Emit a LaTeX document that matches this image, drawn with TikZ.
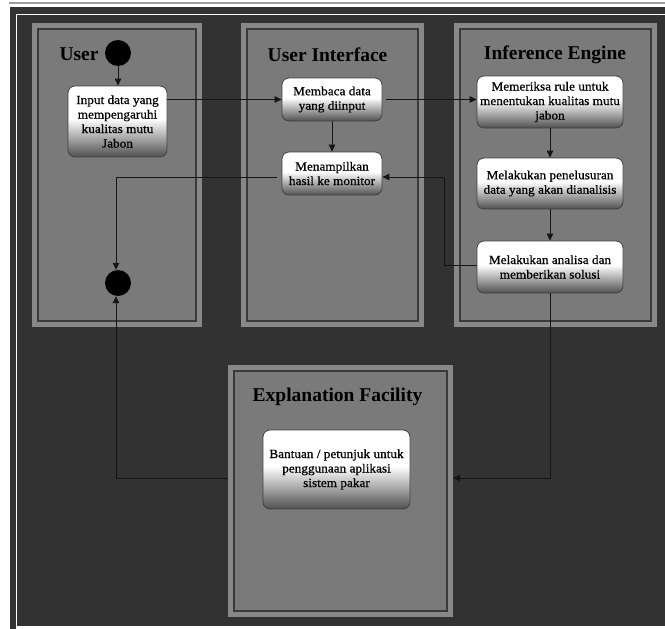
\documentclass[tikz,border=0pt]{standalone}
\usepackage{fontspec}
\setmainfont{Liberation Serif}
\newfontfamily\boxfont[FakeStretch=1.06,FakeBold=0.7]{Liberation Serif}
\usetikzlibrary{shadows,arrows.meta}

\definecolor{bg}{HTML}{323232}
\definecolor{laneband}{HTML}{888888}
\definecolor{lanefill}{HTML}{7A7A7A}
\definecolor{laneline}{HTML}{3A3A3A}
\definecolor{boxlow}{HTML}{505050}
\definecolor{wire}{HTML}{151515}

% white upper half fading to grey at the bottom of each activity box
\pgfdeclareverticalshading{boxfade}{100bp}{color(0bp)=(boxlow); color(25bp)=(boxlow); color(52bp)=(white); color(100bp)=(white)}

\begin{document}
\begin{tikzpicture}[x=1pt, y=-1pt,
  lane/.style={fill=laneband, inner sep=0pt, outer sep=0pt,
    path picture={\draw[laneline, line width=2pt, fill=lanefill]
      ([shift={(6pt,-6pt)}]path picture bounding box.north west) rectangle
      ([shift={(-6pt,6pt)}]path picture bounding box.south east);}},
  title/.style={font=\fontsize{19.5}{22}\selectfont\bfseries, inner sep=0pt},
  act/.style={rounded corners=7pt, draw=black!75, line width=0.8pt,
    shade, shading=boxfade,
    drop shadow={shadow xshift=1.2pt, shadow yshift=-1.5pt, opacity=.55},
    align=center, inner sep=1pt,
    font=\boxfont\fontsize{12.5}{14.5}\selectfont},
  dot/.style={circle, fill=black, minimum size=26pt, inner sep=0pt},
  arr/.style={draw=wire, line width=1pt, -{Triangle[length=7pt,width=6.5pt]}}
]
\useasboundingbox (0,0) rectangle (665,629);

% outer window frame
\fill[white] (0,0) rectangle (665,629);
\draw[gray!75, line width=1.5pt] (9,3) -- (665,3);
\fill[bg] (10,7) rectangle (665,629);
\draw[white, line width=1pt] (665,14.5) -- (16.5,14.5) -- (16.5,626.5) -- (665,626.5);
\fill[white] (16,627) rectangle (665,629);

% swimlanes
\node[lane, minimum width=170pt, minimum height=304pt] (laneU) at (117,175) {};
\node[lane, minimum width=183pt, minimum height=304pt] (laneI) at (332.5,175) {};
\node[lane, minimum width=203pt, minimum height=304pt] (laneE) at (555.5,175) {};
\node[lane, minimum width=225pt, minimum height=252pt] (laneX) at (340.5,491) {};

\node[title] (tU) at (79,54) {User};
\node[title] (tI) at (327.5,55) {User Interface};
\node[title] (tE) at (555,55) {Inference Engine};
\node[title] (tX) at (337.5,397) {Explanation Facility};

% start and end states
\node[dot] (st) at (118,53) {};
\node[dot] (en) at (118,283) {};

% activities
\node[act, minimum width=99pt, minimum height=71pt] (in) at (117.5,121.5)
  {Input data yang\\mempengaruhi\\kualitas mutu\\Jabon};
\node[act, minimum width=100pt, minimum height=43pt] (mb) at (332,99.5)
  {Membaca data\\yang diinput};
\node[act, minimum width=100pt, minimum height=43pt] (mt) at (332,173.5)
  {Menampilkan\\hasil ke monitor};
\node[act, minimum width=146pt, minimum height=52pt] (mr) at (550,102)
  {Memeriksa rule untuk\\menentukan kualitas mutu\\jabon};
\node[act, minimum width=146pt, minimum height=51pt] (mp) at (550,183.5)
  {Melakukan penelusuran\\data yang akan dianalisis};
\node[act, minimum width=146pt, minimum height=52pt] (ma) at (550,267)
  {Melakukan analisa dan\\memberikan solusi};
\node[act, minimum width=147pt, minimum height=79pt] (bt) at (336.5,469.5)
  {Bantuan / petunjuk untuk\\penggunaan aplikasi\\sistem pakar};

% flows
\draw[arr] (st.south) -- (st.south |- in.north);
\draw[arr] (in.east |- mb.west) -- (mb.west);
\draw[arr] ([xshift=4pt]mb.east) -- (mb.east -| mr.west);
\draw[arr] (mb.south) -- (mb.south |- mt.north);
\draw[arr] (mr.south) -- (mp.north);
\draw[arr] (mp.south) -- (ma.north);
\draw[arr] ([yshift=2pt]ma.west) -- ++(-32pt,0) |- ([yshift=-3.5pt]mt.east);
\draw[arr] ([xshift=-5pt,yshift=-3.5pt]mt.west) -| ([xshift=-2pt]en.north);
\draw[arr] (ma.south) |- ([yshift=13pt]laneX.east);
\draw[arr] ([yshift=13pt]laneX.west) -| ([xshift=-2pt]en.south);
\end{tikzpicture}
\end{document}
